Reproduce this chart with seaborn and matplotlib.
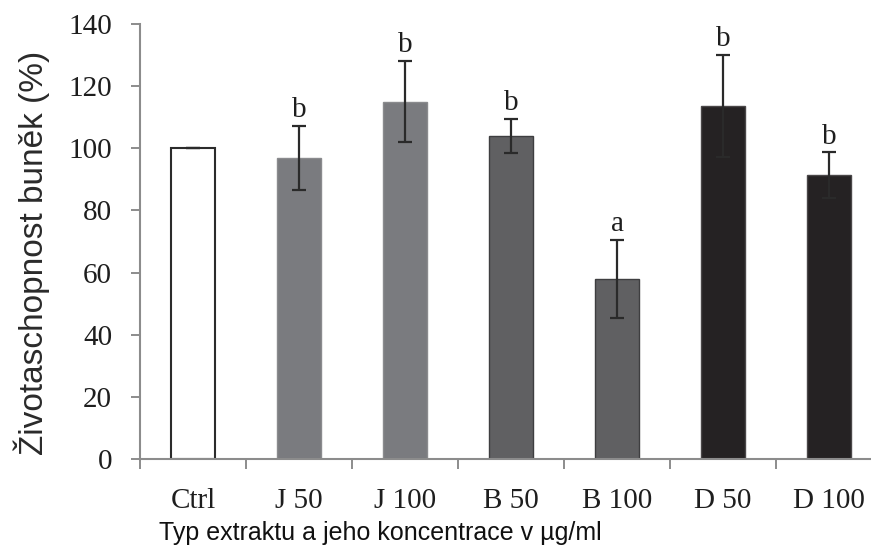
import matplotlib
matplotlib.use("Agg")
import matplotlib.pyplot as plt
from matplotlib import font_manager
from matplotlib.ticker import FixedLocator
import seaborn as sns
import pandas as pd

# Data
categories = ["Ctrl", "J 50", "J 100", "B 50", "B 100", "D 50", "D 100"]
viability = [100, 97, 115, 104, 58, 113.6, 91.4]
errors = [0, 10.3, 13, 5.5, 12.5, 16.4, 7.3]
letters = ["", "b", "b", "b", "a", "b", "b"]
bar_colors = ["#ffffff", "#7a7b7f", "#7a7b7f", "#606062", "#606062", "#252223", "#252223"]
edge_colors = ["#2b2b2b", "#8a8b8e", "#8a8b8e", "#3e3e40", "#3e3e40", "#4a4748", "#4a4748"]
y_ticks = [0, 20, 40, 60, 80, 100, 120, 140]

sns.set_style("white")
installed = {f.name for f in font_manager.fontManager.ttflist}
serif = "Liberation Serif"
sans = "Liberation Sans"
narrow = "Liberation Sans Narrow" if "Liberation Sans Narrow" in installed else sans
xlabel_size = 20 if narrow != sans else 18

df = pd.DataFrame({"kategorie": categories, "hodnota": viability})

fig = plt.figure(figsize=(8.71, 5.54), dpi=100)
ax = fig.add_axes([140 / 871, 1 - 459 / 554, 742 / 871, 435 / 554])

sns.barplot(data=df, x="kategorie", y="hodnota", hue="kategorie",
            palette=bar_colors, legend=False, width=0.41, ax=ax,
            errorbar=None, saturation=1)
for patch, ec in zip(ax.patches, edge_colors):
    patch.set_edgecolor(ec)
    patch.set_linewidth(1.5 if ec == "#2b2b2b" else 1.0)

xpos = list(range(len(categories)))
ax.errorbar(xpos, viability, yerr=errors, fmt="none", ecolor="#2a2a2a",
            elinewidth=1.6, capsize=4.7, capthick=1.6, zorder=3)

for x, v, e, t in zip(xpos, viability, errors, letters):
    if t:
        ax.text(x, v + e + 0.9, t, ha="center", va="bottom",
                fontsize=21, family=serif, color="#1e1e1e")

ax.set_xlim(-0.5, len(categories) - 0.5)
ax.set_ylim(0, 140)
ax.set_yticks(y_ticks)
ax.set_yticklabels([str(t) for t in y_ticks], family=serif, fontsize=21, color="#1e1e1e")

# category labels without marks, marks on the boundaries between categories
ax.set_xticks(xpos)
ax.set_xticklabels(categories, family=serif, fontsize=21, color="#1e1e1e")
ax.tick_params(axis="x", which="major", length=0, pad=21)
ax.xaxis.set_minor_locator(FixedLocator([i - 0.5 for i in range(len(categories) + 1)]))
ax.tick_params(axis="x", which="minor", direction="out", length=7, width=1.4,
               color="#8c8c8c", bottom=True)
ax.tick_params(axis="y", direction="out", length=6.5, width=1.4,
               color="#8c8c8c", pad=13.5, left=True)

for side in ["top", "right"]:
    ax.spines[side].set_visible(False)
for side in ["left", "bottom"]:
    ax.spines[side].set_color("#8c8c8c")
    ax.spines[side].set_linewidth(1.5)

ax.set_xlabel("Typ extraktu a jeho koncentrace v µg/ml", family=narrow,
              fontsize=xlabel_size, color="#111111", va="baseline")
ax.xaxis.set_label_coords((380 - 140) / 742, (459 - 540) / 435)
ax.set_ylabel("Životaschopnost buněk (%)", family=sans, fontsize=24, color="#2a2a2a")
ax.yaxis.set_label_coords((50 - 140) / 742, (459 - 252.5) / 435)

fig.savefig("out.png", dpi=100)
